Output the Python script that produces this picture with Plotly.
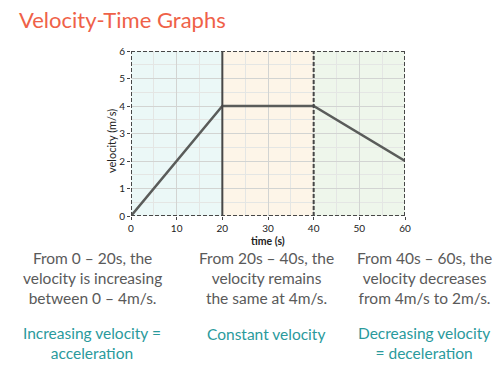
import plotly.graph_objects as go

# Data
time_s = [0, 20, 40, 60]
velocity = [0, 4, 4, 2]
region_edges = [0, 20, 40, 60]
x_ticks = [0, 10, 20, 30, 40, 50, 60]
y_ticks = [0, 1, 2, 3, 4, 5, 6]
descriptions = [
    "From 0 – 20s, the<br>velocity is increasing<br>between 0 – 4m/s.",
    "From 20s – 40s, the<br>velocity remains<br>the same at 4m/s.",
    "From 40s – 60s, the<br>velocity decreases<br>from 4m/s to 2m/s.",
]
conclusions = [
    "Increasing velocity =<br>acceleration",
    "Constant velocity",
    "Decreasing velocity<br>= deceleration",
]
title_text = "Velocity-Time Graphs"
x_title = "time (s)"
y_title = "velocity (m/s)"

region_fills = ["#ebf8f7", "#fdf5e8", "#eef6eb"]
desc_x = [92, 266, 424]

fig = go.Figure()
fig.add_trace(go.Scatter(x=time_s, y=velocity, mode="lines",
                         line=dict(color="#5a5c5a", width=2.5),
                         hoverinfo="skip", showlegend=False))

for i in range(3):
    fig.add_shape(type="rect", xref="x", yref="y",
                  x0=region_edges[i], x1=region_edges[i + 1], y0=0, y1=6,
                  fillcolor=region_fills[i], line=dict(width=0), layer="below")

dash_line = dict(color="#474747", width=2, dash="4px,2px")
# top and bottom borders
for yv in (0, 6):
    fig.add_shape(type="line", xref="x", yref="y", x0=region_edges[0], x1=region_edges[-1],
                  y0=yv, y1=yv, line=dash_line, layer="above")
# vertical borders
for j, xv in enumerate(region_edges):
    ln = dict(color="#474747", width=2) if j == 1 else dash_line
    fig.add_shape(type="line", xref="x", yref="y", x0=xv, x1=xv,
                  y0=0, y1=6, line=ln, layer="above")

fig.update_xaxes(range=[0, 60], tickvals=x_ticks, showgrid=True,
                 gridcolor="#d2d4d2", gridwidth=1,
                 minor=dict(dtick=5, showgrid=True, gridcolor="#e4e6e4", gridwidth=1),
                 ticks="outside", ticklen=3, tickcolor="#444",
                 tickfont=dict(family="Lato", size=10, color="#222"),
                 zeroline=False, showline=False, fixedrange=True)
fig.update_yaxes(range=[0, 6], tickvals=y_ticks, showgrid=True,
                 gridcolor="#d2d4d2", gridwidth=1,
                 minor=dict(dtick=0.5, showgrid=True, gridcolor="#e4e6e4", gridwidth=1),
                 ticks="outside", ticklen=3, tickcolor="#444",
                 tickfont=dict(family="Lato", size=10, color="#222"),
                 zeroline=False, showline=False, fixedrange=True)

annotations = [
    dict(text=title_text, x=17, y=20, showarrow=False,
         xanchor="left", yanchor="middle", font=dict(family="Lato", size=22, color="#ef6148")),
    dict(text=y_title, x=111, y=141, showarrow=False, textangle=-90,
         xanchor="center", yanchor="middle", font=dict(family="Lato", size=11, color="#222")),
    dict(text="<b>" + x_title + "</b>", x=268, y=241, showarrow=False,
         xanchor="center", yanchor="middle", font=dict(family="Lato", size=10.5, color="#222")),
]
for i in range(3):
    annotations.append(dict(text=descriptions[i], x=desc_x[i], y=278, showarrow=False,
                            xanchor="center", yanchor="middle", align="center",
                            font=dict(family="Lato", size=15.5, color="#5a5a5a")))
    annotations.append(dict(text=conclusions[i], x=desc_x[i], y=334 if i == 1 else 343,
                            showarrow=False, xanchor="center", yanchor="middle", align="center",
                            font=dict(family="Lato", size=15.5, color="#2a9a9c")))

# convert pixel positions to paper coords
W, H = 500, 367
ml, mr, mt, mb = 131, 95, 51, 151
pw, ph = W - ml - mr, H - mt - mb
for a in annotations:
    a["x"] = (a["x"] - ml) / pw
    a["y"] = (H - mb - a["y"]) / ph
    a["xref"] = "paper"
    a["yref"] = "paper"

fig.update_layout(width=W, height=H, margin=dict(l=ml, r=mr, t=mt, b=mb),
                  paper_bgcolor="white", plot_bgcolor="white",
                  annotations=annotations, showlegend=False)

fig.write_html("out.html", config={"displayModeBar": False, "staticPlot": True},
               post_script="document.body.style.margin='0px';document.body.style.overflow='hidden';")
